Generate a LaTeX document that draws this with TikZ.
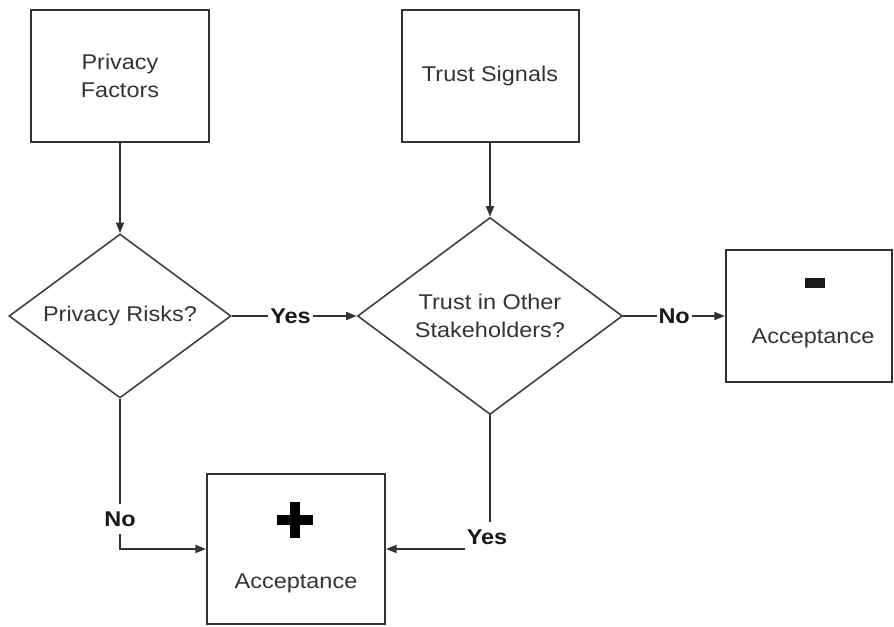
\documentclass[tikz,border=0pt]{standalone}
\usepackage{fontspec}
\setmainfont{Liberation Sans}[FakeStretch=1.1]
\usetikzlibrary{shapes.geometric,arrows.meta}

\tikzset{every picture/.style={line width=0.75pt}}
\tikzset{
  box/.style={draw=black!80, line width=1.5pt, text=black!80, align=center, inner sep=0pt},
  decision/.style={diamond, draw=black!75, line width=1.2pt, text=black!80, align=center, inner sep=0pt, aspect=1.35},
  flow/.style={draw=black!80, line width=1.4pt, -{Triangle[length=8pt,width=6pt]}},
  answer/.style={font=\fontsize{16}{21}\selectfont\bfseries, text=black!90, fill=white, inner xsep=1.5pt, inner ysep=3pt},
}

\begin{document}
\begin{tikzpicture}[x=0.75pt,y=0.75pt,yscale=-1,xscale=1, font=\fontsize{16}{21}\selectfont]
	\useasboundingbox (0,0) rectangle (894,627);

	%Shape: Rectangle [id:privfac]
	\node[box, minimum width=133.5pt, minimum height=99pt] (privfac) at (120,76) {Privacy\\Factors};
	%Shape: Rectangle [id:trustsig]
	\node[box, minimum width=132.75pt, minimum height=99pt] (trustsig) at (490,76) {Trust Signals};

	%Shape: Diamond [id:privrisk]
	\node[decision, minimum width=166.5pt, minimum height=123pt] (privrisk) at (120,316) {Privacy Risks?};
	%Shape: Diamond [id:trustoth]
	\node[decision, minimum width=198.75pt, minimum height=147.75pt] (trustoth) at (490,316) {Trust in Other\\Stakeholders?};

	%Shape: Rectangle [id:accminus]
	\node[box, minimum width=124.5pt, minimum height=99pt] (accminus) at (809,316) {};
	\fill[black!90] (805,278) rectangle (825,288);
	% Text Node
	\node[text=black!80] (accminustxt) at (813,338) {Acceptance};

	%Shape: Rectangle [id:accplus]
	\node[box, minimum width=133.5pt, minimum height=112.5pt] (accplus) at (296,549) {};
	\draw[black, line width=7.5pt] (295,502) -- (295,538) (277,520) -- (313,520);
	% Text Node
	\node[text=black!80] (accplustxt) at (296,583) {Acceptance};

	%Straight Lines
	\draw[flow] (privfac.south) -- (privrisk.north);
	\draw[flow] (trustsig.south) -- (trustoth.north);
	\draw[flow] (privrisk.east) -- node[answer, pos=0.47] {Yes} (trustoth.west);
	\draw[flow] (trustoth.east) -- node[answer] {No} (accminus.west);
	\draw[flow] (privrisk.south) |- node[answer, pos=0.4, minimum height=23pt] {No} (accplus.west);
	\draw[flow] (trustoth.south) |- node[answer, pos=0.5, xshift=-2.25pt, yshift=9pt, minimum height=23pt] {Yes} (accplus.east);

\end{tikzpicture}
\end{document}
